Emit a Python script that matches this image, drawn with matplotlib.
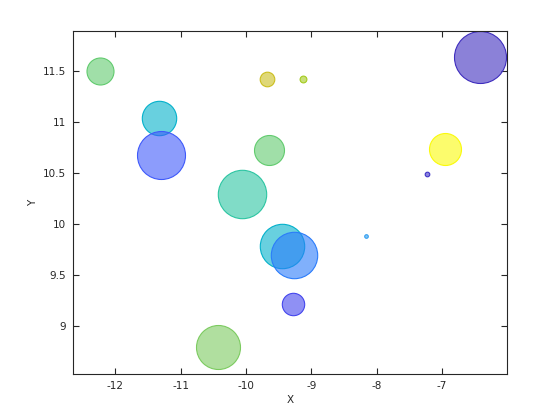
import numpy as np
import matplotlib
matplotlib.use("Agg")
import matplotlib.pyplot as plt
from matplotlib.colors import LinearSegmentedColormap

# Data
x = [-12.239, -11.337, -11.294, -9.674, -9.121, -9.641, -10.053, -9.442,
     -9.259, -9.274, -10.428, -8.162, -7.229, -6.955, -6.420]
y = [11.494, 11.034, 10.670, 11.414, 11.414, 10.721, 10.290, 9.788,
     9.692, 9.213, 8.798, 9.879, 10.486, 10.730, 11.631]
radius_px = [13.5, 17.2, 24.0, 7.3, 3.4, 15.0, 24.2, 22.2,
             23.2, 11.2, 22.0, 1.8, 2.3, 16.0, 26.0]
cval = [0.60, 0.40, 0.15, 0.82, 0.72, 0.60, 0.50, 0.40,
        0.25, 0.10, 0.65, 0.30, 0.02, 1.00, 0.00]

xticks = [-12, -11, -10, -9, -8, -7]
yticks = [9, 9.5, 10, 10.5, 11, 11.5]
ytick_labels = ["9", "9.5", "10", "10.5", "11", "11.5"]

anchors = [(0.00, (62, 45, 190)), (0.10, (68, 70, 238)), (0.15, (63, 90, 250)),
           (0.25, (43, 123, 250)), (0.30, (50, 160, 240)), (0.40, (3, 177, 203)),
           (0.50, (43, 197, 163)), (0.60, (97, 203, 110)), (0.65, (123, 203, 97)),
           (0.72, (163, 203, 30)), (0.82, (203, 190, 30)), (1.00, (250, 250, 10))]
cmap = LinearSegmentedColormap.from_list(
    "par", [(p, tuple(v / 255 for v in c)) for p, c in anchors])

W, H, DPI = 560, 420, 100
fig = plt.figure(figsize=(W / DPI, H / DPI), dpi=DPI)
ax = fig.add_axes([0.131, 0.109, 0.774, 0.818])

px2pt = 72 / DPI
for xi, yi, r, c in zip(x, y, radius_px, cval):
    col = cmap(c)
    s = (2 * r * px2pt) ** 2
    ax.scatter([xi], [yi], s=s, facecolor=(col[0], col[1], col[2], 0.6),
               edgecolor=col, linewidths=0.8, zorder=2)

ax.set_xlim(-12.639, -6.012)
ax.set_ylim(8.528, 11.892)
ax.set_xticks(xticks)
ax.set_xticklabels([str(t) for t in xticks])
ax.set_yticks(yticks)
ax.set_yticklabels(ytick_labels)
ax.tick_params(direction="in", top=True, right=True, length=4, width=0.8,
               labelsize=7.5, colors="#262626", pad=5)
for sp in ax.spines.values():
    sp.set_linewidth(0.8)
    sp.set_color("#262626")
ax.set_xlabel("X", fontsize=7.5, color="#262626", labelpad=3)
ax.set_ylabel("Y", fontsize=7.5, color="#262626", labelpad=4)

fig.savefig("out.png", dpi=DPI)
